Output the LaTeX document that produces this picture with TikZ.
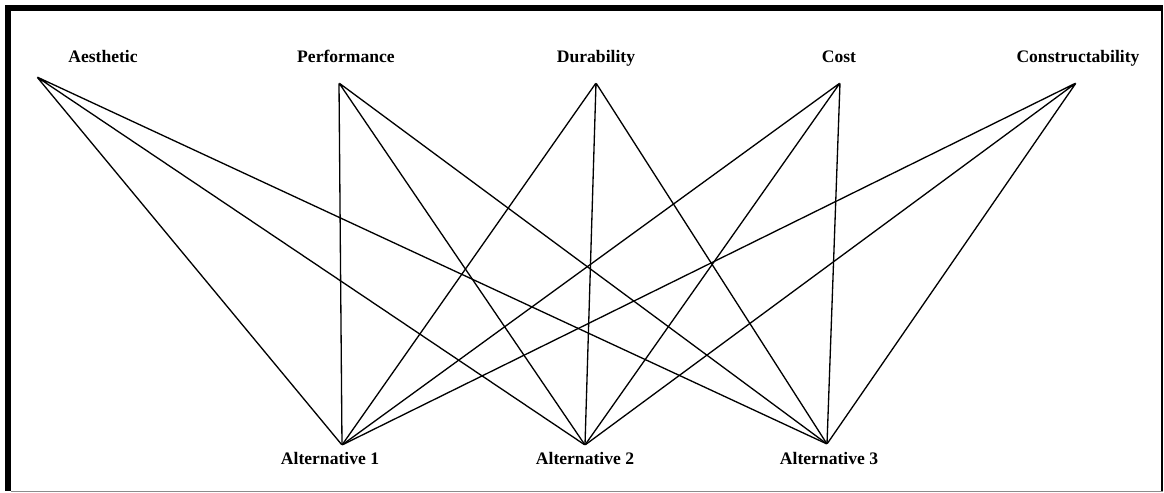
\documentclass[tikz,border=0pt]{standalone}
\usepackage{fontspec}
\setmainfont{Liberation Serif}
\usepackage{tikz}
\usetikzlibrary{positioning}
\usepackage{xcolor}
\definecolor{framegray}{HTML}{8C8C8C}

\begin{document}
\begin{tikzpicture}[
  x=0.02cm, y=-0.02cm,
  pt/.style={inner sep=0pt, minimum size=0pt},
  lbl/.style={inner sep=1pt, text height=0.7em, text depth=0.22em, font=\bfseries\fontsize{10}{12}\selectfont},
  edge/.style={line width=0.75pt, color=black}
]
\useasboundingbox (0,0) rectangle (1164,493);

% frame
\fill[black] (5,5) rectangle (11,491);
\fill[black] (5,5) rectangle (1163,11);
\draw[line width=1.2pt] (1162,11) -- (1162,491);
\draw[framegray, line width=0.8pt] (11,491.5) -- (1163,491.5);

% criteria
\node[pt] (aes) at (37,77) {};
\node[pt] (perf) at (339,83) {};
\node[pt] (dur) at (596,83) {};
\node[pt] (cost) at (840,83) {};
\node[pt] (cons) at (1076,83) {};
\node[lbl] (aesl) at (103,58) {Aesthetic};
\node[lbl] (perfl) at (346,58) {Performance};
\node[lbl] (durl) at (596,58) {Durability};
\node[lbl] (costl) at (839,58) {Cost};
\node[lbl] (consl) at (1078,58) {Constructability};

% alternatives
\node[pt] (alt1) at (342,445) {};
\node[pt] (alt2) at (585,445) {};
\node[pt] (alt3) at (827,444) {};
\node[lbl] (alt1l) at (330,460) {Alternative 1};
\node[lbl] (alt2l) at (585,460) {Alternative 2};
\node[lbl] (alt3l) at (829,460) {Alternative 3};

\draw[edge] (aes) -- (alt1) (aes) -- (alt2) (aes) -- (alt3);
\draw[edge] (perf) -- (alt1) (perf) -- (alt2) (perf) -- (alt3);
\draw[edge] (dur) -- (alt1) (dur) -- (alt2) (dur) -- (alt3);
\draw[edge] (cost) -- (alt1) (cost) -- (alt2) (cost) -- (alt3);
\draw[edge] (cons) -- (alt1) (cons) -- (alt2) (cons) -- (alt3);
\end{tikzpicture}
\end{document}
